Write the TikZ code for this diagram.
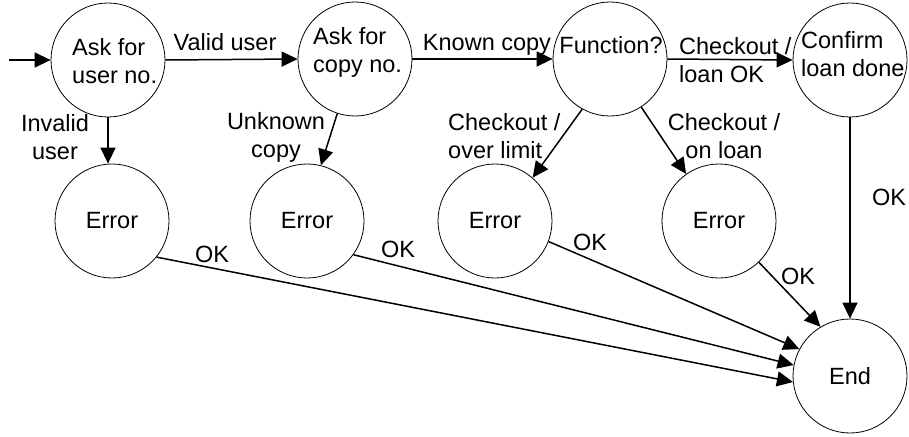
\documentclass[tikz,border=0pt]{standalone}
\usepackage{fontspec}
\setmainfont{Liberation Sans}
\usetikzlibrary{arrows.meta}

\begin{document}
\begin{tikzpicture}[x=1pt, y=-1pt,
  every node/.style={font=\fontsize{23.5}{28}\selectfont},
  st/.style={circle, draw, line width=0.8pt, minimum size=114pt, inner sep=0pt},
  txt/.style={inner sep=0pt},
  conn/.style={line width=1.5pt, -{Triangle[length=16pt, width=15pt]}}
]
\useasboundingbox (0,0) rectangle (909,436);

% states
\node[st] (c1) at (108,60) {};
\node[st] (c2) at (355,59) {};
\node[st] (fn) at (610,59) {};
\node[st] (cf) at (850,60) {};
\node[st] (e1) at (112,221) {Error};
\node[st] (e2) at (307,221) {Error};
\node[st] (e3) at (495,221) {Error};
\node[st] (e4) at (719,221) {Error};
\node[st] (end) at (850,376) {End};

% state texts
\node[txt, anchor=west, align=left] (c1t) at (72,61) {Ask for\\user no.};
\node[txt, anchor=west, align=left] (c2t) at (313,52) {Ask for\\copy no.};
\node[txt] (fnt) at (611,45) {Function?};
\node[txt, anchor=west, align=left] (cft) at (801,54) {Confirm\\loan done};

% entry
\coordinate (start) at (9,60);
\draw[conn] (start) -- (c1.west);

% main flow
\draw[conn] (c1.east) -- (c2.west);
\draw[conn] (c2.east) -- (fn.west);
\draw[conn] (fn.east) -- (cf.west);
\draw[conn] (cf.south) -- (end.north);

% error branches
\draw[conn] (c1.south) -- (c1.south |- e1.north);
\draw[conn] (c2.-108) -- (e2.76);
\draw[conn] (fn.-119) -- (e3.49);
\draw[conn] (fn.-57) -- (e4.125);

% back to end
\draw[conn] (e1.-39) -- (end.186);
\draw[conn] (e2.-36) -- (end.169);
\draw[conn] (e3.-21) -- (end.152);
\draw[conn] (e4.-46) -- (end.121);

% labels
\node[txt, anchor=base] (l1) at (225,51) {Valid user};
\node[txt, anchor=base] (l2) at (487,51) {Known copy};
\node[txt, anchor=west, align=left] (l3) at (679,60) {Checkout /\\loan OK};
\node[txt, align=center] (l4) at (55,137) {Invalid\\user};
\node[txt, align=center] (l5) at (276,137) {Unknown\\copy};
\node[txt, anchor=west, align=left] (l6) at (448,136) {Checkout /\\over limit};
\node[txt, align=center] (l7) at (724,136) {Checkout /\\on loan};
\node[txt] (ok1) at (212,254) {OK};
\node[txt] (ok2) at (398,249) {OK};
\node[txt] (ok3) at (590,242) {OK};
\node[txt] (ok4) at (798,276) {OK};
\node[txt] (ok5) at (889,197) {OK};
\end{tikzpicture}
\end{document}
